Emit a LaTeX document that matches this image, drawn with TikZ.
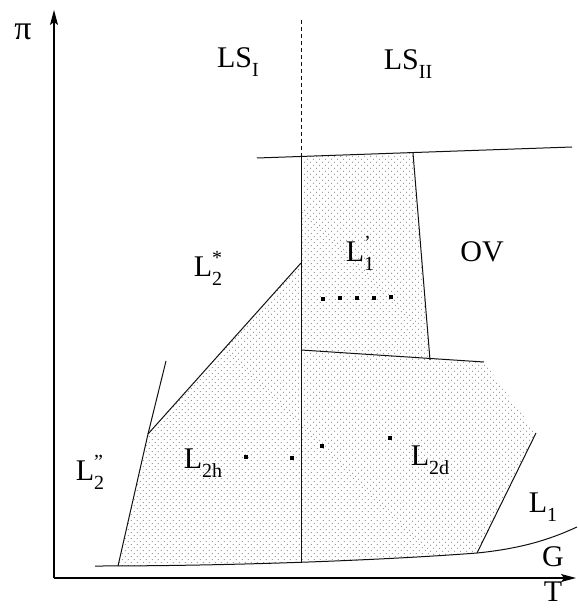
\documentclass[tikz,border=0pt]{standalone}
\usepackage{fontspec}
\setmainfont{Liberation Serif}
\usepackage{tikz}
\usetikzlibrary{
  arrows.meta,
  patterns.meta,
  calc
}
\definecolor{pdLine}{HTML}{111111}
\definecolor{pdDot}{HTML}{555555}
\newcommand{\lsub}[1]{\raisebox{-0.3em}{\fontsize{20}{20}\selectfont #1}}
\newcommand{\lsup}[1]{\raisebox{0.4em}{\fontsize{20}{20}\selectfont #1}}
\tikzset{
  phasefill/.style={pattern={Dots[distance=4pt, angle=45, radius=0.55pt]}, pattern color=pdDot},
  boundary/.style={line width=1pt, pdLine},
  guide/.style={line width=1pt, pdLine, dash pattern=on 4pt off 3pt},
  axisline/.style={-{Stealth[length=15pt, width=8pt, inset=3pt]}, line width=1.1pt, black},
  phaselabel/.style={font=\fontsize{30}{34}\selectfont, inner sep=0pt},
  marker/.style={fill=black, minimum size=4.5pt, inner sep=0pt}
}

\begin{document}
\begin{tikzpicture}[x=1pt, y=-1pt]
  \useasboundingbox (0,0) rectangle (577,609);
  % points of the diagram
  \coordinate (o) at (54,578);
  \coordinate (ytip) at (54,10);
  \coordinate (xtip) at (576,578);
  \coordinate (tl) at (257,158);
  \coordinate (tr) at (572,147);
  \coordinate (dTop) at (301,20);
  \coordinate (cTop) at (301,156.5);
  \coordinate (cMid) at (301,350);
  \coordinate (cBot) at (301,563);
  \coordinate (oTop) at (413,153);
  \coordinate (oBot) at (430,360);
  \coordinate (mR) at (484,362);
  \coordinate (wedge) at (301,263);
  \coordinate (kneeL) at (148,434);
  \coordinate (extL) at (166,361);
  \coordinate (footL) at (118,566);
  \coordinate (rTop) at (536,433);
  \coordinate (rFoot) at (477,553);
  \coordinate (gStart) at (95,566);
  \coordinate (gEnd) at (577,527);

  % shaded regions
  \fill[phasefill] (cTop) -- (oTop) -- (oBot) -- (cMid) -- cycle;
  \fill[phasefill] (footL) -- (kneeL) -- (wedge) -- (cMid) -- (mR) -- (rTop) -- (rFoot)
    .. controls (400,559) and (250,566) .. (gStart) -- cycle;

  % axes
  \draw[axisline] (o) -- (ytip);
  \draw[axisline] (o) -- (xtip);

  % phase boundaries
  \draw[guide] (dTop) -- (cTop);
  \draw[boundary] (tl) -- (tr);
  \draw[boundary] (cTop) -- (cBot);
  \draw[boundary] (oTop) -- (oBot);
  \draw[boundary] (cMid) -- (mR);
  \draw[boundary] (footL) -- (kneeL) -- (extL);
  \draw[boundary] (kneeL) -- (wedge);
  \draw[boundary] (rTop) -- (rFoot);
  \draw[boundary] (gStart) .. controls (250,566) and (400,559) .. (rFoot)
    .. controls (527,548) and (555,537) .. (gEnd);

  % markers
  \node[marker] (a1) at (323,299) {};
  \node[marker] (a2) at (340,298) {};
  \node[marker] (a3) at (357,298) {};
  \node[marker] (a4) at (374,298) {};
  \node[marker] (a5) at (391,297) {};
  \node[marker] (b1) at (246,457) {};
  \node[marker] (b2) at (292,458) {};
  \node[marker] (b3) at (322,446) {};
  \node[marker] (b4) at (390,438) {};

  % labels
  \node[phaselabel, font=\fontsize{34}{38}\selectfont] (pi) at (23,32) {π};
  \node[phaselabel] (tT) at (553,592) {T};
  \node[phaselabel] (gG) at (553,557) {G};
  \node[phaselabel] (ls1) at (238,62) {LS\lsub{I}};
  \node[phaselabel] (ls2) at (408,64) {LS\lsub{II}};
  \node[phaselabel] (l2s) at (208,268) {L\rlap{\lsup{*}}\lsub{2}};
  \node[phaselabel] (l1p) at (360,253) {L\rlap{\lsup{'}}\lsub{1}};
  \node[phaselabel] (ov) at (482,252) {OV};
  \node[phaselabel] (l2pp) at (90,472) {L\rlap{\lsup{''}}\lsub{2}};
  \node[phaselabel] (l2h) at (203,463) {L\lsub{2h}};
  \node[phaselabel] (l2d) at (430,460) {L\lsub{2d}};
  \node[phaselabel] (l1) at (543,507) {L\lsub{1}};
\end{tikzpicture}
\end{document}
